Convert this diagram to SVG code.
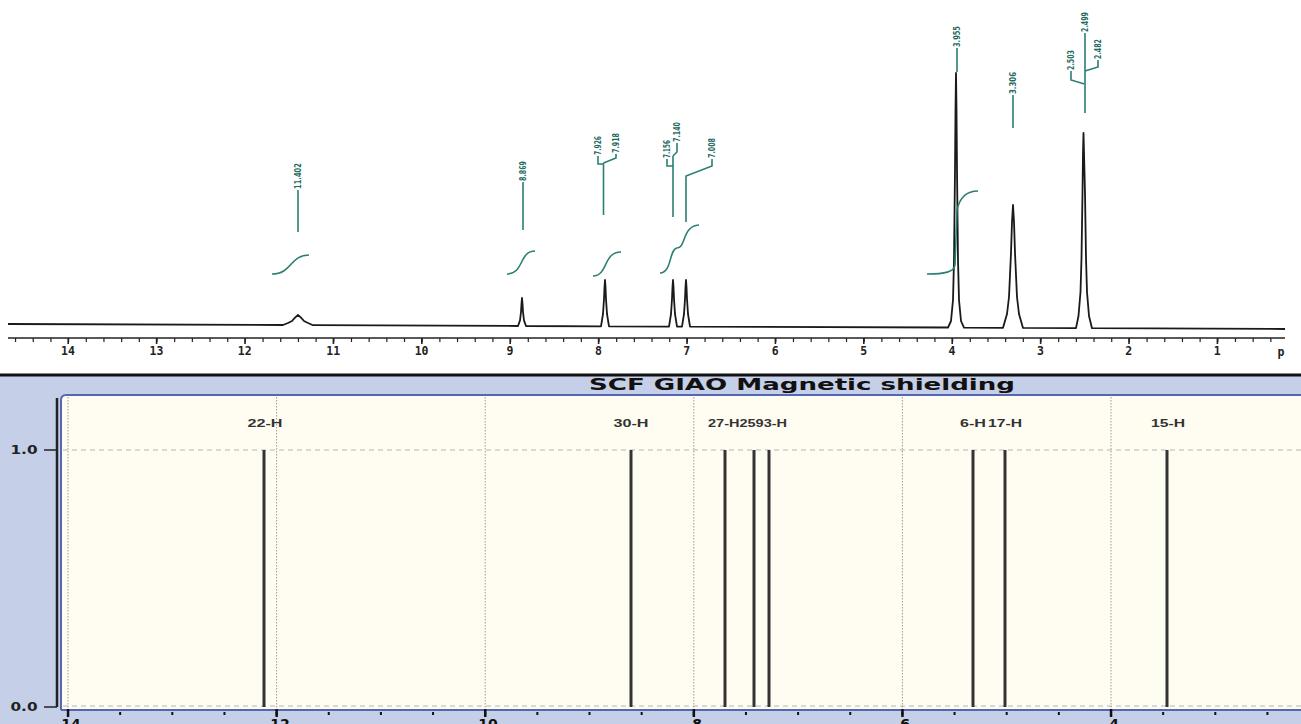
<svg xmlns="http://www.w3.org/2000/svg" width="1301" height="724" viewBox="0 0 1301 724">
<style>
.teal{fill:none;stroke:#2b7f72;stroke-width:1.6}
.plab{font-family:"DejaVu Sans","Liberation Sans",sans-serif;font-weight:bold;font-size:9.5px;fill:#1d6a5e}
.ax{font-family:"DejaVu Sans Mono","Liberation Mono",monospace;font-weight:bold;font-size:11.5px;fill:#222;text-anchor:middle}
.hl{font-family:"Liberation Sans","DejaVu Sans",sans-serif;font-weight:bold;font-size:11px;fill:#333;text-anchor:middle}
.yl{font-family:"DejaVu Sans","Liberation Sans",sans-serif;font-weight:bold;font-size:12px;fill:#222;text-anchor:middle}
.bx{font-family:"DejaVu Sans","Liberation Sans",sans-serif;font-weight:bold;font-size:14px;fill:#111;text-anchor:middle}
.stick{stroke:#333;stroke-width:3}
.grid{stroke:#9a9a9a;stroke-width:1;stroke-dasharray:1.5 1.5}
.hgrid{stroke:#b4b4b4;stroke-width:1;stroke-dasharray:5 4}
</style>
<rect x="0" y="0" width="1301" height="724" fill="#ffffff"/>

<g id="nmr-experimental">
  <g id="top-axis">
    <line x1="8" y1="338" x2="1285" y2="338" stroke="#222" stroke-width="1.5"/>
    <line x1="14.96" y1="340" x2="1285" y2="340" stroke="#222" stroke-width="4" stroke-dasharray="1.2 16.48"/>
    <line x1="67.4" y1="341" x2="1285" y2="341" stroke="#222" stroke-width="6" stroke-dasharray="1.6 86.8"/>
    <text class="ax" x="68" y="355">14</text>
    <text class="ax" x="156.4" y="355">13</text>
    <text class="ax" x="244.8" y="355">12</text>
    <text class="ax" x="333.2" y="355">11</text>
    <text class="ax" x="421.6" y="355">10</text>
    <text class="ax" x="510" y="355">9</text>
    <text class="ax" x="598.4" y="355">8</text>
    <text class="ax" x="686.8" y="355">7</text>
    <text class="ax" x="775.2" y="355">6</text>
    <text class="ax" x="863.6" y="355">5</text>
    <text class="ax" x="952" y="355">4</text>
    <text class="ax" x="1040.4" y="355">3</text>
    <text class="ax" x="1128.8" y="355">2</text>
    <text class="ax" x="1217.2" y="355">1</text>
    <text class="ax" x="1281" y="356">p</text>
  </g>
  <g id="spectrum">
    <path fill="none" stroke="#1a1a1a" stroke-width="1.8" stroke-linejoin="round" d="M8,324 L283,325 L288,323 L292,321 L295,317.6 L298,315 L301,317.6 L304,321 L308,323 L313,325.2 L518,326 L520,320.4 L521,312 L521.5,303.6 L522,298 L522.5,303.6 L523,312 L524,320.4 L526,326 L601,326.3 L603,314 L604,299 L604.5,287 L605,280 L605.5,287 L606,299 L607,314 L609,326.3 L669,326.6 L671,314 L672,299 L672.5,287 L673,280 L673.5,287 L674,299 L675,314 L677,326.6 L682,326.6 L684,314 L685,299 L685.5,287 L686,280 L686.5,287 L687,299 L688,314 L690,326.6 L948,327.5 L951,321 L953,300 L954,260 L955,170 L955.5,110 L956,73 L956.5,110 L957,170 L958,260 L959,300 L961,321 L964,327.7 L1003,327.8 L1007,314 L1009,297 L1011,252.9 L1012,221.9 L1013,205 L1014,221.9 L1015,252.9 L1017,297 L1019,314 L1023,327.9 L1076,328.1 L1078.5,316 L1080.5,292 L1081.5,258 L1082.5,193 L1083,152.7 L1083.5,133 L1084,152.7 L1085,193 L1086,258 L1087,292 L1089,316 L1092,328.2 L1285,329"/>
  </g>
  <g id="integrals">
    <path class="teal" d="M272,274 C292,274 290,255 309,255"/>
    <path class="teal" d="M507,274 C524,274 519,251 535,251"/>
    <path class="teal" d="M593,276 C608,276 603,252 621,252"/>
    <path class="teal" d="M660,273 C672,273 669,249 677,248 C686,248 682,226 699,225"/>
    <path class="teal" d="M927,274 C945,274 954,272 955,265 L957,210 C960,196 968,191 978,191"/>
  </g>
  <g id="peak-label-lines">
    <path class="teal" d="M298,190 V232"/>
    <path class="teal" d="M523,182 V230"/>
    <path class="teal" d="M598,156 V164 H603.5 M616,154 V158 L603.5,163 M603.5,163 V215"/>
    <path class="teal" d="M667,159 V166 H673 M677,143 V152 L673,156 M673,156 V217"/>
    <path class="teal" d="M712,159 V166 L686,176 V222"/>
    <path class="teal" d="M957,48 V72"/>
    <path class="teal" d="M1013,95 V128"/>
    <path class="teal" d="M1085,33 V113"/>
    <path class="teal" d="M1098,60 V67 L1085,71"/>
    <path class="teal" d="M1071,71 V80 L1084.5,84"/>
  </g>
  <g id="peak-labels">
    <text class="plab" transform="translate(298,189) rotate(-90)" dy="0.35em" textLength="26" lengthAdjust="spacingAndGlyphs">11.402</text>
    <text class="plab" transform="translate(523,181) rotate(-90)" dy="0.35em" textLength="20" lengthAdjust="spacingAndGlyphs">8.869</text>
    <text class="plab" transform="translate(598,155) rotate(-90)" dy="0.35em" textLength="19" lengthAdjust="spacingAndGlyphs">7.926</text>
    <text class="plab" transform="translate(616,153) rotate(-90)" dy="0.35em" textLength="20" lengthAdjust="spacingAndGlyphs">7.918</text>
    <text class="plab" transform="translate(667,158) rotate(-90)" dy="0.35em" textLength="18" lengthAdjust="spacingAndGlyphs">7.156</text>
    <text class="plab" transform="translate(677,142) rotate(-90)" dy="0.35em" textLength="20" lengthAdjust="spacingAndGlyphs">7.140</text>
    <text class="plab" transform="translate(712,158) rotate(-90)" dy="0.35em" textLength="20" lengthAdjust="spacingAndGlyphs">7.008</text>
    <text class="plab" transform="translate(957,47) rotate(-90)" dy="0.35em" textLength="21" lengthAdjust="spacingAndGlyphs">3.955</text>
    <text class="plab" transform="translate(1013,94) rotate(-90)" dy="0.35em" textLength="22" lengthAdjust="spacingAndGlyphs">3.306</text>
    <text class="plab" transform="translate(1085,32) rotate(-90)" dy="0.35em" textLength="20" lengthAdjust="spacingAndGlyphs">2.499</text>
    <text class="plab" transform="translate(1098,59) rotate(-90)" dy="0.35em" textLength="20" lengthAdjust="spacingAndGlyphs">2.482</text>
    <text class="plab" transform="translate(1071,70) rotate(-90)" dy="0.35em" textLength="20" lengthAdjust="spacingAndGlyphs">2.503</text>
  </g>
</g>

<g id="nmr-calculated">
  <rect x="0" y="376" width="1301" height="348" fill="#c5cfe7"/>
  <line x1="0" y1="375" x2="1301" y2="375" stroke="#111" stroke-width="3"/>
  <text x="802" y="390" font-family="DejaVu Sans, Liberation Sans, sans-serif" font-weight="bold" font-size="16" fill="#111" text-anchor="middle" textLength="426" lengthAdjust="spacingAndGlyphs">SCF GIAO Magnetic shielding</text>
  <g id="plot-area">
    <rect x="61" y="395" width="1241" height="315" fill="#fffdf1"/>
    <path d="M61,710 V400 Q61,395 66,395 H1302" fill="none" stroke="#5566b5" stroke-width="2"/>
    <line x1="61" y1="710" x2="1302" y2="710" stroke="#5566b5" stroke-width="2"/>
    <line class="hgrid" x1="63" y1="450" x2="1301" y2="450"/>
    <line class="hgrid" x1="63" y1="706" x2="1301" y2="706"/>
    <line class="grid" x1="68" y1="397" x2="68" y2="708"/>
    <line class="grid" x1="276.6" y1="397" x2="276.6" y2="708"/>
    <line class="grid" x1="485.2" y1="397" x2="485.2" y2="708"/>
    <line class="grid" x1="693.8" y1="397" x2="693.8" y2="708"/>
    <line class="grid" x1="902.4" y1="397" x2="902.4" y2="708"/>
    <line class="grid" x1="1111" y1="397" x2="1111" y2="708"/>
  </g>
  <g id="y-axis">
    <line x1="57" y1="398" x2="57" y2="707" stroke="#222" stroke-width="2.5"/>
    <line x1="44" y1="450" x2="57" y2="450" stroke="#222" stroke-width="1.5"/>
    <line x1="44" y1="707" x2="57" y2="707" stroke="#222" stroke-width="1.5"/>
    <text class="yl" x="24" y="454" textLength="27" lengthAdjust="spacingAndGlyphs">1.0</text>
    <text class="yl" x="24" y="711" textLength="27" lengthAdjust="spacingAndGlyphs">0.0</text>
  </g>
  <g id="x-axis">
    <line x1="67" y1="713.5" x2="1301" y2="713.5" stroke="#111" stroke-width="3" stroke-dasharray="2 50.15"/>
    <line x1="66.8" y1="713" x2="1301" y2="713" stroke="#111" stroke-width="8" stroke-dasharray="2.5 206.1"/>
    <text class="bx" x="71" y="729">14</text>
    <text class="bx" x="280" y="729">12</text>
    <text class="bx" x="488" y="729">10</text>
    <text class="bx" x="697" y="729">8</text>
    <text class="bx" x="905" y="729">6</text>
    <text class="bx" x="1114" y="729">4</text>
  </g>
  <g id="sticks">
    <line class="stick" x1="264" y1="450" x2="264" y2="707"/>
    <line class="stick" x1="631" y1="450" x2="631" y2="707"/>
    <line class="stick" x1="725" y1="450" x2="725" y2="707"/>
    <line class="stick" x1="754" y1="450" x2="754" y2="707"/>
    <line class="stick" x1="769" y1="450" x2="769" y2="707"/>
    <line class="stick" x1="973" y1="450" x2="973" y2="707"/>
    <line class="stick" x1="1005" y1="450" x2="1005" y2="707"/>
    <line class="stick" x1="1167" y1="450" x2="1167" y2="707"/>
  </g>
  <g id="stick-labels">
    <text class="hl" x="265" y="427" textLength="35" lengthAdjust="spacingAndGlyphs">22-H</text>
    <text class="hl" x="631" y="427" textLength="35" lengthAdjust="spacingAndGlyphs">30-H</text>
    <text class="hl" x="747.5" y="427" textLength="79" lengthAdjust="spacingAndGlyphs">27-H2593-H</text>
    <text class="hl" x="973" y="427" textLength="26" lengthAdjust="spacingAndGlyphs">6-H</text>
    <text class="hl" x="1005" y="427" textLength="34" lengthAdjust="spacingAndGlyphs">17-H</text>
    <text class="hl" x="1168" y="427" textLength="34" lengthAdjust="spacingAndGlyphs">15-H</text>
  </g>
</g>
</svg>
